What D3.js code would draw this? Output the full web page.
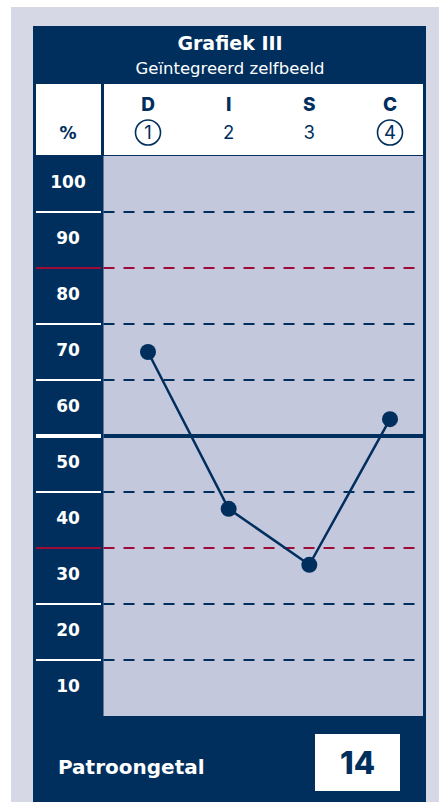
<!DOCTYPE html>
<html>
<head>
<meta charset="utf-8">
<script src="https://cdn.jsdelivr.net/npm/d3@7/dist/d3.min.js"></script>
<style>
  html, body { margin: 0; padding: 0; background: #ffffff; }
  svg { display: block; }
  text { font-family: Inter, "Open Sans", sans-serif; }
  .dv { font-family: "DejaVu Sans", Inter, sans-serif; }
</style>
</head>
<body>
<svg id="chart" width="439" height="802"></svg>
<script>
// ---- data ----
const categories = ["D", "I", "S", "C"];
const categoryNumbers = ["1", "2", "3", "4"];
const circledNumbers = ["1", "4"];
const values = [70, 42, 32, 58];
const tickLabels = [100, 90, 80, 70, 60, 50, 40, 30, 20, 10];
const dashedLines = [95, 75, 65, 45, 25, 15];
const redLines = [85, 35];
const midLine = 55;
const title = "Grafiek III";
const subtitle = "Geïntegreerd zelfbeeld";
const patternLabel = "Patroongetal";
const patternValue = "14";

// ---- style ----
const NAVY = "#002f5e";
const RED = "#9e0b37";
const PLOT_BG = "#c3c8dc";
const PAGE_BG = "#d6d8e6";

const svg = d3.select("#chart");

// page background
svg.append("rect").attr("x", 11).attr("y", 7).attr("width", 428).attr("height", 795).attr("fill", PAGE_BG);
// panel
svg.append("rect").attr("x", 33).attr("y", 26).attr("width", 393).attr("height", 776).attr("fill", NAVY);

// plot geometry
const plotL = 103.5, plotR = 423, plotT = 156, plotB = 716;
const colL = 36, colR = 101;

const y = d3.scaleLinear().domain([5, 105]).range([plotB, plotT]);
const x = d3.scalePoint().domain(categories).range([148, 390]);

// header
svg.append("text").attr("class", "dv").attr("x", 230).attr("y", 50).attr("text-anchor", "middle")
  .attr("fill", "#fff").attr("font-size", 19).attr("font-weight", 700).text(title);
svg.append("text").attr("class", "dv").attr("x", 230).attr("y", 74).attr("text-anchor", "middle")
  .attr("fill", "#fff").attr("font-size", 16.5).attr("font-weight", 400).text(subtitle);

svg.append("rect").attr("x", colL).attr("y", 84).attr("width", colR - colL).attr("height", 71).attr("fill", "#fff");
svg.append("rect").attr("x", 104).attr("y", 84).attr("width", 319).attr("height", 71).attr("fill", "#fff");

svg.append("text").attr("class", "dv").attr("x", 68).attr("y", 139).attr("text-anchor", "middle")
  .attr("fill", NAVY).attr("font-size", 17).attr("font-weight", 700).text("%");

const hdr = svg.append("g").selectAll("g").data(categories).join("g")
  .attr("transform", d => `translate(${x(d)},0)`);
hdr.append("text").attr("y", 111).attr("text-anchor", "middle")
  .attr("fill", NAVY).attr("font-size", 19).attr("font-weight", 800).text(d => d);
hdr.append("text").attr("y", 139).attr("text-anchor", "middle")
  .attr("fill", NAVY).attr("font-size", 18.5).attr("font-weight", 400)
  .text((d, i) => categoryNumbers[i]);
hdr.filter((d, i) => circledNumbers.includes(categoryNumbers[i]))
  .append("circle").attr("cy", 132.5).attr("r", 12.5)
  .attr("fill", "none").attr("stroke", NAVY).attr("stroke-width", 1.6);

// plot area
svg.append("rect").attr("x", plotL).attr("y", plotT).attr("width", plotR - plotL).attr("height", plotB - plotT).attr("fill", PLOT_BG);

// left column tick labels
svg.append("g").selectAll("text").data(tickLabels).join("text")
  .attr("class", "dv")
  .attr("x", 68).attr("y", d => y(d)).attr("dy", "0.24em").attr("text-anchor", "middle")
  .attr("fill", "#fff").attr("font-size", 17).attr("font-weight", 700).text(d => d);

// left column separators
const sepData = [...dashedLines.map(v => ({v, c: "#fff", w: 2})),
                 ...redLines.map(v => ({v, c: RED, w: 2})),
                 {v: midLine, c: "#fff", w: 4}];
svg.append("g").selectAll("line").data(sepData).join("line")
  .attr("x1", colL).attr("x2", colR)
  .attr("y1", d => y(d.v)).attr("y2", d => y(d.v))
  .attr("stroke", d => d.c).attr("stroke-width", d => d.w);

// dashed grid lines
const gridData = [...dashedLines.map(v => ({v, c: NAVY})), ...redLines.map(v => ({v, c: RED}))];
svg.append("g").selectAll("line").data(gridData).join("line")
  .attr("x1", plotL).attr("x2", plotR)
  .attr("y1", d => y(d.v)).attr("y2", d => y(d.v))
  .attr("stroke", d => d.c).attr("stroke-width", 2).attr("stroke-dasharray", "11 9");

// mid line
svg.append("line").attr("x1", plotL).attr("x2", 426)
  .attr("y1", y(midLine)).attr("y2", y(midLine))
  .attr("stroke", NAVY).attr("stroke-width", 4);

// data line
const line = d3.line().x((d, i) => x(categories[i])).y(d => y(d));
svg.append("path").datum(values).attr("d", line)
  .attr("fill", "none").attr("stroke", NAVY).attr("stroke-width", 2.5);
svg.append("g").selectAll("circle").data(values).join("circle")
  .attr("cx", (d, i) => x(categories[i])).attr("cy", d => y(d)).attr("r", 8)
  .attr("fill", NAVY);

// bottom
svg.append("text").attr("class", "dv").attr("x", 58).attr("y", 774)
  .attr("fill", "#fff").attr("font-size", 20).attr("font-weight", 700).text(patternLabel);
svg.append("rect").attr("x", 315).attr("y", 734).attr("width", 85).attr("height", 57).attr("fill", "#fff");
svg.append("text").attr("x", 357.5).attr("y", 762.5).attr("dy", "0.36em").attr("text-anchor", "middle")
  .attr("fill", NAVY).attr("font-size", 31).attr("font-weight", 800).text(patternValue);
</script>
</body>
</html>
